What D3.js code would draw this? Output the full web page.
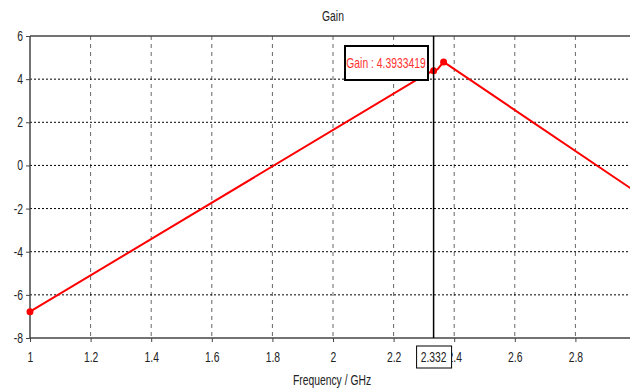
<!DOCTYPE html>
<html>
<head>
<meta charset="utf-8">
<script src="https://cdn.jsdelivr.net/npm/d3@7"></script>
<style>
  body { margin: 0; background: #fff; }
  text { font-family: "Liberation Sans", sans-serif; }
</style>
</head>
<body>
<div id="chart"></div>
<script>
// curve samples (GHz, dB)
const freq = [1, 2.31, 2.332, 2.345, 2.365, 3.0];
const gain = [-6.78, 4.25, 4.3933419, 4.45, 4.8, -1.23];
const markerFreq = [1, 2.332, 2.365];
const markerGain = [-6.78, 4.3933419, 4.8];
const xTicks = [1, 1.2, 1.4, 1.6, 1.8, 2, 2.2, 2.4, 2.6, 2.8];
const yTicks = [6, 4, 2, 0, -2, -4, -6, -8];
const cursorFreq = 2.332;
const cursorLabel = "Gain : 4.3933419";

const width = 630, height = 389;
const plotLeft = 30, plotTop = 36, plotBottom = 338;
const fontSize = "14px";
const squeeze = 0.74; // narrow the glyphs to look like the original UI font

const x = d3.scaleLinear().domain([1, 3]).range([plotLeft, plotLeft + 606]);
const y = d3.scaleLinear().domain([-8, 6]).range([plotBottom, plotTop]);

const svg = d3.select("#chart").append("svg")
  .attr("width", width).attr("height", height);

// grid
svg.append("g").selectAll("line").data(xTicks.filter(d => d > 1))
  .join("line")
  .attr("x1", d => x(d)).attr("x2", d => x(d))
  .attr("y1", plotTop).attr("y2", plotBottom)
  .attr("stroke", "#666").attr("stroke-dasharray", "4,4");

svg.append("g").selectAll("line").data(yTicks.filter(d => d > -8 && d < 6))
  .join("line")
  .attr("x1", plotLeft).attr("x2", width)
  .attr("y1", d => y(d)).attr("y2", d => y(d))
  .attr("stroke", "#000").attr("stroke-dasharray", "2,2");

// frame
svg.append("line").attr("x1", plotLeft).attr("x2", width)
  .attr("y1", plotTop).attr("y2", plotTop).attr("stroke", "#444").attr("stroke-width", 1.5);
svg.append("line").attr("x1", plotLeft).attr("x2", width)
  .attr("y1", plotBottom).attr("y2", plotBottom).attr("stroke", "#444").attr("stroke-width", 1.5);
svg.append("line").attr("x1", plotLeft).attr("x2", plotLeft)
  .attr("y1", plotTop).attr("y2", plotBottom).attr("stroke", "#444").attr("stroke-width", 1.5);

// axes
const xAxis = svg.append("g").attr("transform", `translate(0,${plotBottom})`)
  .call(d3.axisBottom(x).tickValues(xTicks).tickSize(4).tickPadding(10).tickFormat(d => String(d)));
const yAxis = svg.append("g").attr("transform", `translate(${plotLeft},0)`)
  .call(d3.axisLeft(y).tickValues(yTicks).tickSize(4).tickPadding(3).tickFormat(d => String(d)));
[xAxis, yAxis].forEach(a => {
  a.select(".domain").remove();
  a.selectAll("line").attr("stroke", "#444");
  a.selectAll("text").attr("fill", "#222").style("font-size", fontSize);
});

// curve
const data = freq.map((f, i) => ({ f, g: gain[i] }));
svg.append("path").datum(data)
  .attr("fill", "none").attr("stroke", "#ff0000").attr("stroke-width", 2)
  .attr("d", d3.line().x(d => x(d.f)).y(d => y(d.g)));

svg.append("g").selectAll("circle").data(markerFreq)
  .join("circle")
  .attr("cx", d => x(d)).attr("cy", (d, i) => y(markerGain[i]))
  .attr("r", 3.5).attr("fill", "#ff0000");

// cursor
const cx = x(cursorFreq);
svg.append("line").attr("x1", cx).attr("x2", cx)
  .attr("y1", plotTop).attr("y2", plotBottom).attr("stroke", "#000").attr("stroke-width", 1.5);

svg.append("rect").attr("x", cx - 17).attr("y", 346).attr("width", 35).attr("height", 22)
  .attr("fill", "#fff").attr("stroke", "#000");
svg.append("text").attr("x", cx).attr("y", 362).attr("text-anchor", "middle")
  .style("font-size", fontSize).attr("fill", "#222").text(cursorFreq);

svg.append("rect").attr("x", 345).attr("y", 46).attr("width", 83).attr("height", 34)
  .attr("fill", "#fff").attr("stroke", "#000").attr("stroke-width", 2);
svg.append("text").attr("x", 386).attr("y", 68).attr("text-anchor", "middle")
  .style("font-size", fontSize).attr("fill", "#ff3030").text(cursorLabel);

// titles
svg.append("text").attr("x", 333).attr("y", 21).attr("text-anchor", "middle")
  .style("font-size", fontSize).attr("fill", "#222").text("Gain");
svg.append("text").attr("x", 332).attr("y", 385).attr("text-anchor", "middle")
  .style("font-size", fontSize).attr("fill", "#222").text("Frequency / GHz");

// condense every label around its anchor point
svg.selectAll("text").attr("transform", function () {
  const ax = +(d3.select(this).attr("x") || 0);
  return `translate(${ax},0) scale(${squeeze},1) translate(${-ax},0)`;
});
</script>
</body>
</html>
